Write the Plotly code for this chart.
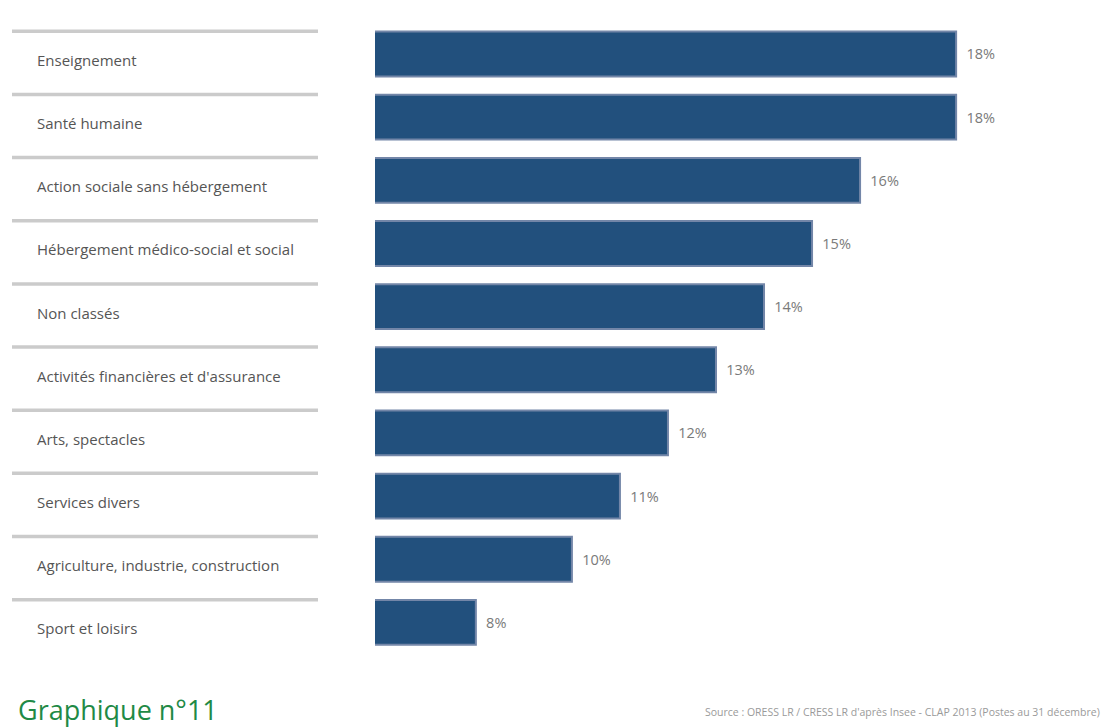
import plotly.graph_objects as go

# Secteurs d'activité et part correspondante (%)
secteurs = [
    "Enseignement",
    "Santé humaine",
    "Action sociale sans hébergement",
    "Hébergement médico-social et social",
    "Non classés",
    "Activités financières et d'assurance",
    "Arts, spectacles",
    "Services divers",
    "Agriculture, industrie, construction",
    "Sport et loisirs",
]
parts = [18, 18, 16, 15, 14, 13, 12, 11, 10, 8]
etiquettes = [f"\u2002{v}%" for v in parts]

titre = "Graphique n°11"
source = "Source : ORESS LR / CRESS LR d'après Insee - CLAP 2013 (Postes au 31 décembre)"

W, H = 1105, 727
BAR = "#22507d"
BAR_EDGE = "#7386a8"

fig = go.Figure(
    go.Bar(
        x=parts,
        y=secteurs,
        orientation="h",
        marker=dict(color=BAR, line=dict(color=BAR_EDGE, width=2)),
        text=etiquettes,
        textposition="outside",
        textfont=dict(family="Open Sans", size=14.5, color="#7a7a7a"),
        cliponaxis=False,
        hoverinfo="skip",
    )
)

# Libellés des secteurs, alignés à gauche dans la colonne de gauche
for s in secteurs:
    fig.add_annotation(
        x=35 / W, xref="paper", xanchor="left",
        y=s, yref="y", yshift=-6,
        text=s, showarrow=False,
        font=dict(family="Open Sans", size=15, color="#555555"),
    )

# Filets gris au-dessus de chaque libellé
for i in range(len(secteurs)):
    fig.add_shape(
        type="line", xref="paper", yref="y",
        x0=12 / W, x1=318 / W, y0=i - 0.36, y1=i - 0.36,
        line=dict(color="#cbcbcb", width=3.5),
    )

fig.add_annotation(
    x=16 / W, xref="paper", xanchor="left",
    y=-3 / H, yref="paper", yanchor="bottom",
    text=titre, showarrow=False,
    font=dict(family="Open Sans", size=27, color="#1f8a46"),
)
fig.add_annotation(
    x=1102 / W, xref="paper", xanchor="right",
    y=(H - 712) / H, yref="paper", yanchor="middle",
    text=source, showarrow=False,
    font=dict(family="Open Sans", size=10.5, color="#9a9a9a"),
)

fig.update_layout(
    width=W, height=H,
    margin=dict(l=0, r=0, t=0, b=0),
    paper_bgcolor="white", plot_bgcolor="white",
    showlegend=False,
    bargap=0.29,
    xaxis=dict(
        domain=[375 / W, 1.0], range=[5.9, 21.1],
        showgrid=False, zeroline=False, showticklabels=False, ticks="",
    ),
    yaxis=dict(
        domain=[(H - 654) / H, (H - 22.4) / H],
        autorange="reversed",
        showgrid=False, zeroline=False, showticklabels=False, ticks="",
    ),
)

fig.write_html("out.html")
